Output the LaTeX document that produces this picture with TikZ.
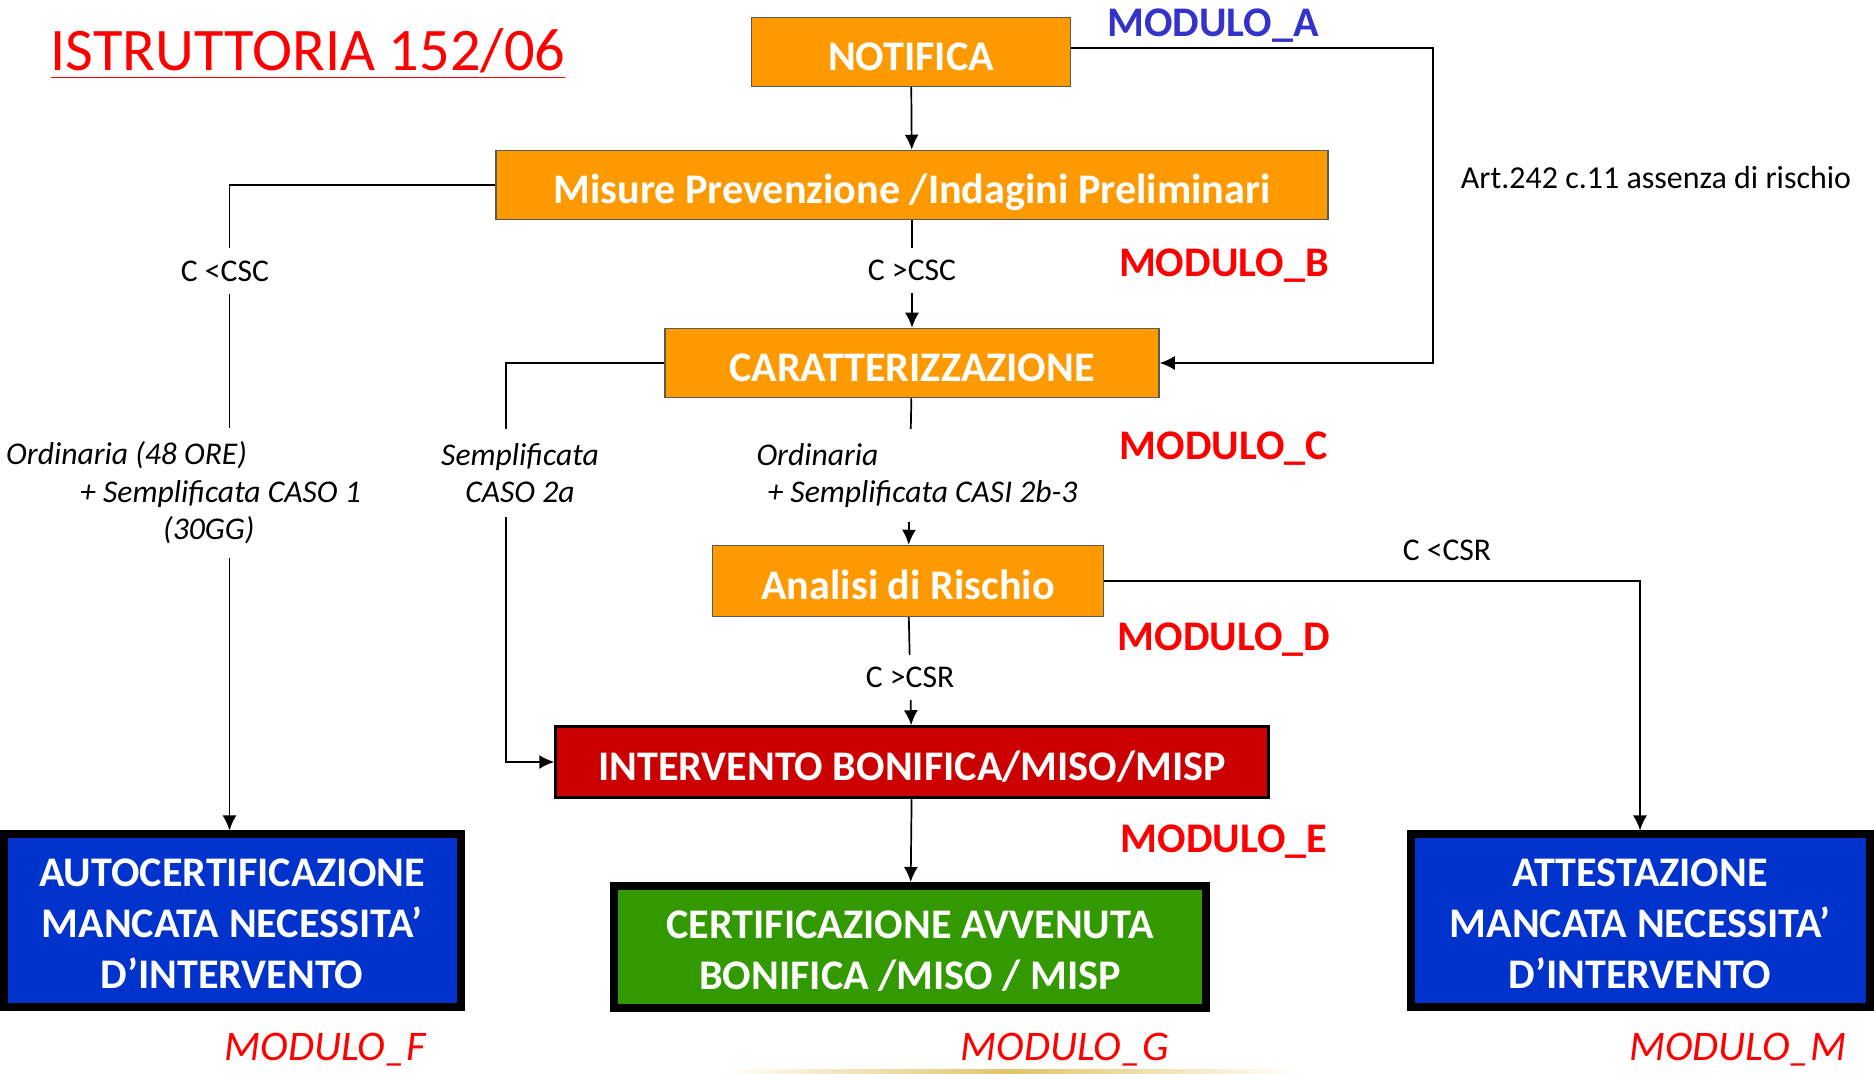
\documentclass[tikz,border=0pt]{standalone}
\usepackage{fontspec}
\setmainfont{Carlito}
\definecolor{BoxOrange}{HTML}{FF9900}
\definecolor{BoxRed}{HTML}{CC0000}
\definecolor{BoxBlue}{HTML}{0033CC}
\definecolor{BoxGreen}{HTML}{339900}
\definecolor{ModRed}{HTML}{FF0000}
\definecolor{ModBlue}{HTML}{3333CC}
\definecolor{EdgeGray}{HTML}{595959}
\definecolor{GoldLine}{HTML}{E0C46A}
\usetikzlibrary{arrows.meta,positioning,calc}

\begin{document}
\begin{tikzpicture}[x=0.1mm,y=-0.1mm,
        box/.style={draw=EdgeGray,line width=0.15mm,fill=BoxOrange,
                    text=white,font=\fontsize{12}{14}\selectfont\bfseries,
                    inner sep=0pt,minimum height=6.9mm,
                    text height=10.6pt,text depth=0pt},
        endbox/.style={draw=black,line width=0.8mm,text=white,align=center,
                       font=\fontsize{12}{14.5}\selectfont\bfseries,inner sep=0pt,
                       text depth=0pt},
        cond/.style={fill=white,font=\fontsize{9}{10}\selectfont,
                     inner xsep=2pt,inner ysep=3.5pt},
        route/.style={fill=white,font=\fontsize{9}{10.7}\selectfont\itshape,
                      inner xsep=1pt,inner ysep=4pt},
        modlab/.style={font=\fontsize{12}{14}\selectfont\bfseries,text=ModRed},
        modout/.style={font=\fontsize{12}{14}\selectfont\itshape,text=ModRed},
        arr/.style={-{Latex[length=1.5mm,width=1.4mm]},line width=0.17mm}]

        \useasboundingbox (0,0) rectangle (1874,1074);

        % title
        \node[font=\fontsize{17.2}{20}\selectfont,text=ModRed] (title) at (308,54)
              {\underline{ISTRUTTORIA 152/06}};

        % main column
        \node[box,minimum width=31.9mm] (notifica) at (911,52) {NOTIFICA};
        \node[box,minimum width=83.2mm] (misure) at (912,185)
              {Misure Prevenzione /Indagini Preliminari};
        \node[box,minimum width=49.4mm] (caratt) at (912,363) {CARATTERIZZAZIONE};
        \node[box,minimum width=39.1mm,minimum height=7.1mm] (analisi) at (908,581)
              {Analisi di Rischio};
        \node[box,draw=black,line width=0.25mm,fill=BoxRed,
              minimum width=71.3mm,minimum height=7.1mm] (interv) at (912,762)
              {INTERVENTO BONIFICA/MISO/MISP};

        % outcomes
        \node[endbox,fill=BoxBlue,minimum width=45.7mm,minimum height=17.3mm,
              text height=38.6pt] (autocert) at (232,921)
              {AUTOCERTIFICAZIONE\\MANCATA NECESSITA’\\D’INTERVENTO};
        \node[endbox,fill=BoxGreen,minimum width=59.2mm,minimum height=12.2mm,
              text height=24.1pt] (certif) at (910,947)
              {CERTIFICAZIONE AVVENUTA\\BONIFICA /MISO / MISP};
        \node[endbox,fill=BoxBlue,minimum width=45.9mm,minimum height=17.3mm,
              text height=38.6pt] (attest) at (1640,921)
              {ATTESTAZIONE\\MANCATA NECESSITA’\\D’INTERVENTO};

        % connectors
        \foreach \a/\b in {notifica/misure,interv/certif}{
          \draw[arr] (\a) -- (\b);
        }
        \foreach \a/\b/\t/\p in {misure/caratt/{C >CSC}/0.47,analisi/interv/{C >CSR}/0.56}{
          \draw[arr] (\a) -- node[cond,pos=\p] (lab\a) {\t} (\b);
        }
        \draw[arr] (caratt) -- node[route,align=left,xshift=0.7mm,yshift=-0.4mm] (ordC)
              {Ordinaria\\\hspace*{1.1mm}+ Semplificata CASI 2b-3} (analisi);
        \draw[arr] ([yshift=0.4mm]notifica.east) -- ++(362,0) |- (caratt.east);
        \draw[arr] (misure.west) -| ([xshift=-0.25mm]autocert.north);
        \draw[arr] (caratt.west) -- ++(-158,0) |- (interv.west);
        \draw[arr] (analisi.east) -| (attest.north);

        % labels on the side branches
        \node[cond] (cscL) at (225,271) {C <CSC};
        \node[route,align=left,anchor=west] (ordF) at (2,493)
              {Ordinaria (48 ORE)\\\hspace*{7.4mm}+ Semplificata CASO 1\\\hspace*{15.7mm}(30GG)};
        \node[route,align=center] (sempl) at (520,473) {Semplificata\\CASO 2a};
        \node[cond,fill=none] (csrR) at (1447,550) {C <CSR};
        \node[font=\fontsize{9.1}{10}\selectfont] (art) at (1656,178)
              {Art.242 c.11 assenza di rischio};

        % module tags
        \node[modlab,text=ModBlue] (modA) at (1213,26) {MODULO\_A};
        \foreach \m/\y in {B/266,C/449,D/640,E/842}{
          \node[modlab] (mod\m) at (1224,\y) {MODULO\_\m};
        }
        \foreach \m/\x in {F/325,G/1065,M/1738}{
          \node[modout] (mod\m) at (\x,1050) {MODULO\_\m};
        }

        % faint gold rule at the bottom
        \shade[left color=white,right color=white,middle color=GoldLine]
          (720,1070) rectangle (1300,1074);
      \end{tikzpicture}
\end{document}
